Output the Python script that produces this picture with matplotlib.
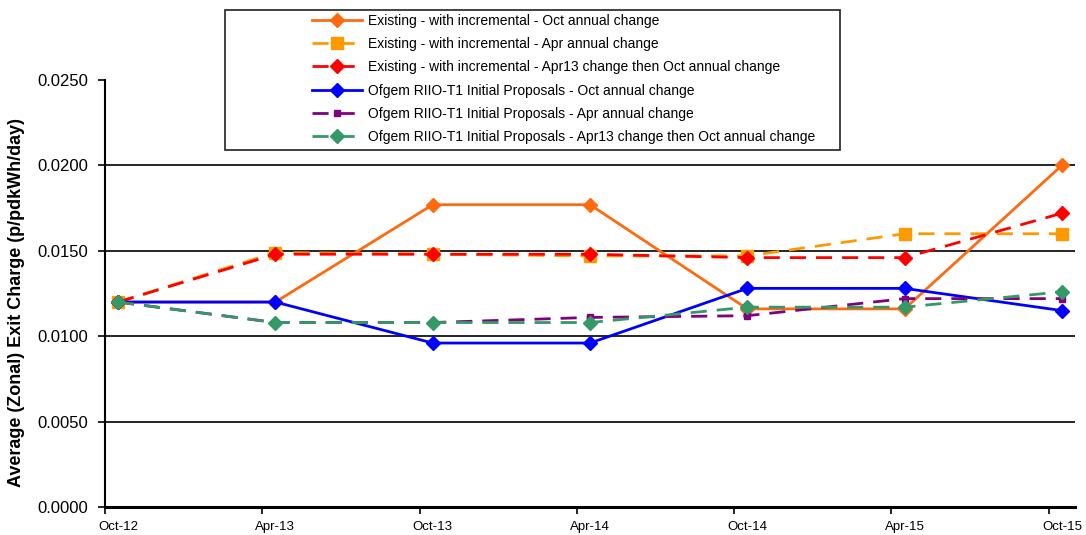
import matplotlib
matplotlib.use("Agg")

import matplotlib.pyplot as plt
from matplotlib.patches import Rectangle


# half-year reporting points, in months from Oct-12
months = [0, 6, 12, 18, 24, 30, 36]
period_labels = ["Oct-12", "Apr-13", "Oct-13", "Apr-14", "Oct-14", "Apr-15", "Oct-15"]

existing_oct = [0.0120, 0.0120, 0.0177, 0.0177, 0.0116, 0.0116, 0.0200]
existing_apr = [0.0120, 0.0149, 0.0148, 0.0147, 0.0147, 0.0160, 0.0160]
existing_apr13_oct = [0.0120, 0.0148, 0.0148, 0.0148, 0.0146, 0.0146, 0.0172]
ofgem_oct = [0.0120, 0.0120, 0.0096, 0.0096, 0.0128, 0.0128, 0.0115]
ofgem_apr = [0.0120, 0.0108, 0.0108, 0.0111, 0.0112, 0.0122, 0.0122]
ofgem_apr13_oct = [0.0120, 0.0108, 0.0108, 0.0108, 0.0117, 0.0117, 0.0126]

dash = (0, (5.8, 3.6))
series = [
    ("Existing - with incremental - Oct annual change", existing_oct,
     dict(color="#FF6A0F", ls="-", marker="D", ms=7.5)),
    ("Existing - with incremental - Apr annual change", existing_apr,
     dict(color="#FF9900", ls=dash, marker="s", ms=9)),
    ("Existing - with incremental - Apr13 change then Oct annual change", existing_apr13_oct,
     dict(color="#FF0000", ls=dash, marker="D", ms=7.5)),
    ("Ofgem RIIO-T1 Initial Proposals - Oct annual change", ofgem_oct,
     dict(color="#0000FF", ls="-", marker="D", ms=7.5)),
    ("Ofgem RIIO-T1 Initial Proposals - Apr annual change", ofgem_apr,
     dict(color="#800080", ls=dash, marker="s", ms=4.5)),
    ("Ofgem RIIO-T1 Initial Proposals - Apr13 change then Oct annual change", ofgem_apr13_oct,
     dict(color="#339966", ls=dash, marker="D", ms=7.5)),
]

plt.rcParams["font.family"] = ["Liberation Sans", "DejaVu Sans"]

fig = plt.figure(figsize=(10.86, 5.35), dpi=100)
ax = fig.add_axes([105 / 1086, 28 / 535, 970 / 1086, 427 / 535])

handles = []
for label, values, style in series:
    (line,) = ax.plot(months, values, lw=2, color=style["color"], ls=style["ls"],
                      marker=style["marker"], ms=style["ms"],
                      mfc=style["color"], mec=style["color"], label=label,
                      clip_on=False, zorder=3)
    handles.append(line)

ax.set_xlim(-0.5, 36.5)
ax.set_ylim(0, 0.025)

# y axis: 0.005 steps, gridlines except at the top
yticks = [0.0, 0.005, 0.010, 0.015, 0.020, 0.025]
ax.set_yticks(yticks)
ax.set_yticklabels([f"{v:.4f}" for v in yticks], fontsize=12)
for v in yticks[1:-1]:
    ax.axhline(v, color="black", lw=1.2, zorder=1)
ax.tick_params(axis="y", direction="out", length=5, width=1.2, pad=7, colors="black")

# x axis: labels centred on points, tick marks between
ax.set_xticks(months)
ax.set_xticklabels(period_labels, fontsize=9.5)
ax.tick_params(axis="x", which="major", length=0, pad=10)
ax.set_xticks([m - 0.5 for m in months], minor=True)
ax.tick_params(axis="x", which="minor", direction="out", length=5, width=1.2)

for side in ["top", "right"]:
    ax.spines[side].set_visible(False)
ax.spines["left"].set_linewidth(1.5)
ax.spines["bottom"].set_linewidth(2.2)

ax.set_ylabel("Average (Zonal) Exit Charge (p/pdkWh/day)", fontsize=13,
              fontweight="bold")
ax.yaxis.set_label_coords(-80 / 970, 0.48)

# legend box sits above the plot area
fig.patches.append(Rectangle((225 / 1086, 1 - 150 / 535), 615 / 1086, 140 / 535,
                             transform=fig.transFigure, fill=False,
                             edgecolor="#333333", lw=1.3))
fig.legend(handles, [s[0] for s in series], loc="upper left",
           bbox_to_anchor=(312 / 1086, 1 - 14 / 535), frameon=False,
           prop=dict(size=10), handlelength=3.6, handletextpad=0.4,
           labelspacing=0.66, borderpad=0, borderaxespad=0)

fig.savefig("out.png", dpi=100)
